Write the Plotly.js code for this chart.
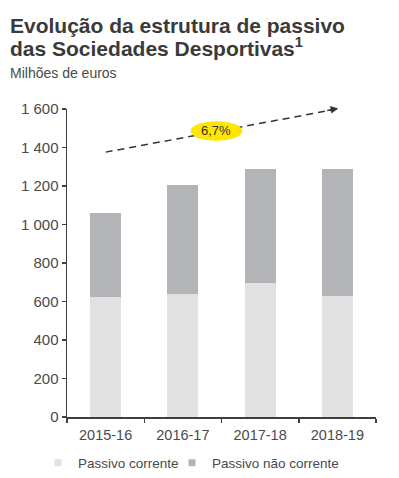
<!DOCTYPE html>
<html>
<head>
<meta charset="utf-8">
<script src="https://cdn.plot.ly/plotly-3.0.1.min.js"></script>
<style>
html,body{margin:0;padding:0;background:#fff;}
#chart{width:399px;height:478px;}
</style>
</head>
<body>
<div id="chart"></div>
<script>
const categories = ['2015-16', '2016-17', '2017-18', '2018-19'];
const passivoCorrente = [625, 640, 697, 630];
const passivoNaoCorrente = [435, 567, 593, 660];
const yTickVals = [0, 200, 400, 600, 800, 1000, 1200, 1400, 1600];
const yTickText = ['0', '200', '400', '600', '800', '1 000', '1 200', '1 400', '1 600'];
const growthLabel = '6,7%';

const cLight = '#e1e1e1';
const cDark = '#b2b4b7';
const axisColor = '#3f3f3f';
const font = 'Liberation Sans, Arial, sans-serif';

const traces = [
  {type: 'bar', name: 'Passivo corrente', x: categories, y: passivoCorrente,
   marker: {color: cLight}, showlegend: false, hoverinfo: 'skip'},
  {type: 'bar', name: 'Passivo não corrente', x: categories, y: passivoNaoCorrente,
   marker: {color: cDark}, showlegend: false, hoverinfo: 'skip'},
  {type: 'scatter', mode: 'markers', name: 'Passivo corrente', x: [null], y: [null],
   marker: {symbol: 'square', size: 7, color: cLight}, legend: 'legend'},
  {type: 'scatter', mode: 'markers', name: 'Passivo não corrente', x: [null], y: [null],
   marker: {symbol: 'square', size: 7, color: cDark}, legend: 'legend2'}
];

const W = 399, H = 478, mL = 67, mR = 23, mT = 109, mB = 61;
const pw = W - mL - mR, ph = H - mT - mB;
const px = X => (X - mL) / pw;
const py = Y => (H - mB - Y) / ph;

const legendBase = {orientation: 'h', xanchor: 'left', y: py(463), yanchor: 'middle',
  font: {size: 13.5, color: '#4a4a4a'}, bgcolor: 'rgba(0,0,0,0)'};

const layout = {
  width: W, height: H,
  margin: {l: mL, r: mR, t: mT, b: mB, pad: 0, autoexpand: false},
  paper_bgcolor: '#fff', plot_bgcolor: '#fff',
  font: {family: font, color: '#4a4a4a', size: 14},
  barmode: 'stack',
  bargap: 0.6,
  showlegend: true,
  legend: Object.assign({}, legendBase, {x: px(38)}),
  legend2: Object.assign({}, legendBase, {x: px(172)}),
  xaxis: {type: 'category', showline: true, linecolor: axisColor, linewidth: 1.5,
          ticks: 'outside', tickson: 'boundaries', ticklen: 4, tickcolor: axisColor, tickwidth: 1.5,
          showgrid: false, zeroline: false, tickfont: {size: 14.5, color: '#4a4a4a'},
          ticklabelstandoff: 4, range: [-0.5, 3.5]},
  yaxis: {range: [0, 1600], showline: true, linecolor: axisColor, linewidth: 1.5,
          ticks: 'outside', ticklen: 4, tickcolor: axisColor, tickwidth: 1.5,
          tickvals: yTickVals, ticktext: yTickText, showgrid: false, zeroline: false,
          tickfont: {size: 15, color: '#4a4a4a'}},
  shapes: [
    {type: 'line', xref: 'x', yref: 'y', x0: 0.0, y0: 1376, x1: 3.0, y1: 1600,
     line: {color: '#333', width: 1.5, dash: '7px,5px'}, layer: 'above'},
    {type: 'circle', xref: 'x', yref: 'y', x0: 1.10, x1: 1.77, y0: 1435, y1: 1537,
     fillcolor: '#ffe600', line: {width: 0}, layer: 'above'}
  ],
  annotations: [
    {xref: 'x', yref: 'y', x: 3.01, y: 1603, axref: 'x', ayref: 'y', ax: 2.85, ay: 1591,
     text: '', showarrow: true, arrowhead: 2, arrowsize: 1, arrowwidth: 1.5, arrowcolor: '#333'},
    {xref: 'x', yref: 'y', x: 1.435, y: 1486, text: growthLabel, showarrow: false,
     font: {size: 13, color: '#333', family: font}},
    {xref: 'paper', yref: 'paper', x: px(8), y: py(25), xanchor: 'left', yanchor: 'middle',
     text: '<b>Evolução da estrutura de passivo</b>', showarrow: false,
     font: {size: 21, color: '#3a3a3a', family: font}},
    {xref: 'paper', yref: 'paper', x: px(8), y: py(47), xanchor: 'left', yanchor: 'middle',
     text: '<b>das Sociedades Desportivas<sup>1</sup></b>', showarrow: false,
     font: {size: 21, color: '#3a3a3a', family: font}},
    {xref: 'paper', yref: 'paper', x: px(8), y: py(73), xanchor: 'left', yanchor: 'middle',
     text: 'Milhões de euros', showarrow: false,
     font: {size: 14, color: '#4a4a4a', family: font}}
  ]
};

Plotly.newPlot('chart', traces, layout, {displayModeBar: false, staticPlot: true});
</script>
</body>
</html>
